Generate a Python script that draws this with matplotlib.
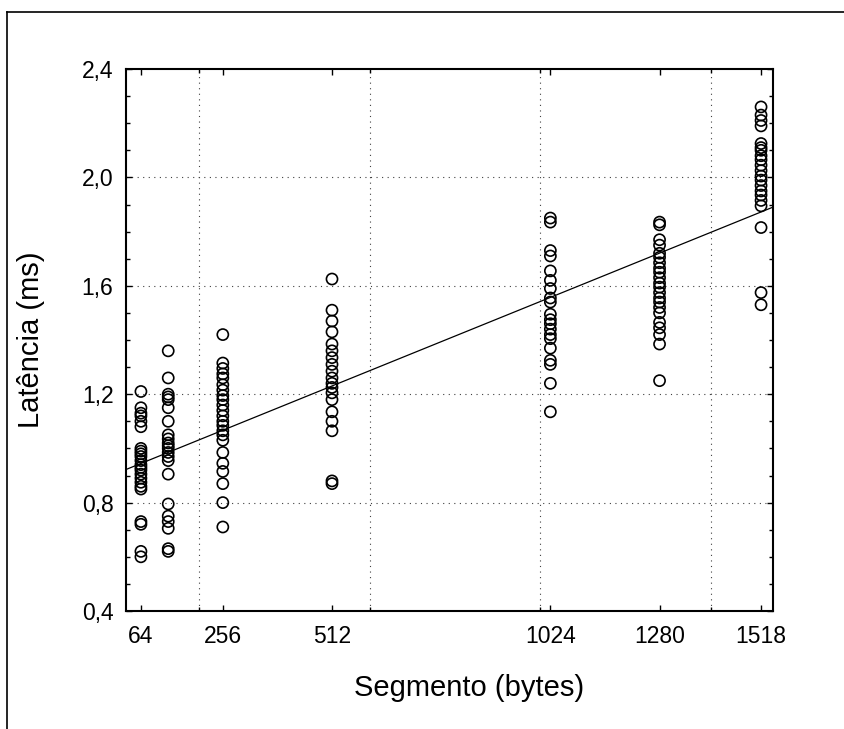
import numpy as np
import matplotlib.pyplot as plt
from matplotlib.lines import Line2D

plt.rcParams['font.family'] = ['Liberation Sans', 'DejaVu Sans']

# --- dados (latencia em ms por tamanho de segmento) ---
seg_64 = [1.21, 1.15, 1.13, 1.12, 1.10, 1.08, 1.00, 0.99, 0.98, 0.97, 0.955,
          0.94, 0.93, 0.92, 0.905, 0.89, 0.875, 0.86, 0.85, 0.73, 0.72, 0.62, 0.60]
seg_128 = [1.36, 1.26, 1.20, 1.19, 1.18, 1.15, 1.10, 1.05, 1.035, 1.02, 1.01,
           1.00, 0.985, 0.97, 0.955, 0.905, 0.795, 0.75, 0.73, 0.705, 0.63, 0.62]
seg_256 = [1.42, 1.315, 1.295, 1.275, 1.26, 1.235, 1.215, 1.195, 1.18, 1.16,
           1.14, 1.12, 1.10, 1.085, 1.065, 1.05, 1.03, 0.985, 0.945, 0.915,
           0.87, 0.80, 0.71]
seg_512 = [1.625, 1.51, 1.47, 1.43, 1.385, 1.36, 1.335, 1.31, 1.285, 1.26,
           1.24, 1.225, 1.205, 1.18, 1.135, 1.10, 1.065, 0.88, 0.87]
seg_1024 = [1.85, 1.835, 1.73, 1.71, 1.655, 1.62, 1.59, 1.555, 1.54, 1.495,
            1.475, 1.46, 1.44, 1.42, 1.405, 1.37, 1.325, 1.31, 1.24, 1.135]
seg_1280 = [1.835, 1.825, 1.77, 1.75, 1.72, 1.705, 1.685, 1.665, 1.65, 1.63,
            1.61, 1.595, 1.575, 1.555, 1.54, 1.52, 1.50, 1.465, 1.445, 1.42,
            1.385, 1.25]
seg_1518 = [2.26, 2.23, 2.21, 2.19, 2.125, 2.11, 2.10, 2.08, 2.065, 2.045,
            2.025, 2.005, 1.99, 1.97, 1.95, 1.935, 1.915, 1.895, 1.815,
            1.575, 1.53]

segmentos = [64, 128, 256, 512, 1024, 1280, 1518]
latencias = [seg_64, seg_128, seg_256, seg_512, seg_1024, seg_1280, seg_1518]

rotulos_x = [64, 256, 512, 1024, 1280, 1518]
grade_x = [200, 600, 1000, 1400]
rotulos_y = [0.4, 0.8, 1.2, 1.6, 2.0, 2.4]

x_todos = np.concatenate([[s] * len(v) for s, v in zip(segmentos, latencias)])
y_todos = np.concatenate(latencias)
coef = np.polyfit(x_todos, y_todos, 1)

fig = plt.figure(figsize=(8.45, 7.29), dpi=100)
ax = fig.add_axes([126 / 845, 1 - 611 / 729, 647 / 845, 542 / 729])

ax.scatter(x_todos, y_todos, s=64, facecolors='none', edgecolors='black',
           linewidths=1.2, zorder=3)

xlim = (29, 1546)
xr = np.array(xlim)
ax.plot(xr, np.polyval(coef, xr), color='black', linewidth=0.9, zorder=4)

ax.set_xlim(*xlim)
ax.set_ylim(0.4, 2.4)

ax.set_xticks(rotulos_x)
ax.set_xticklabels([str(v) for v in rotulos_x])
ax.set_xticks(grade_x, minor=True)
ax.set_yticks(rotulos_y)
ax.set_yticklabels([f"{v:.1f}".replace('.', ',') for v in rotulos_y])
ax.set_yticks(np.arange(0.4, 2.41, 0.1), minor=True)

ax.tick_params(axis='both', which='both', direction='in', top=True, right=True,
               color='black', width=1.0)
ax.tick_params(axis='both', which='major', length=4, labelsize=16.5)
ax.tick_params(axis='both', which='minor', length=3)
ax.tick_params(axis='x', which='major', pad=10)
ax.tick_params(axis='y', which='major', pad=9)

estilo_grade = dict(color='0.25', linestyle=(0, (1, 4)), linewidth=0.8)
ax.grid(False)
for v in grade_x:
    ax.axvline(v, zorder=1, **estilo_grade)
for v in rotulos_y[1:-1]:
    ax.axhline(v, zorder=1, **estilo_grade)

for lado in ax.spines.values():
    lado.set_linewidth(1.5)
    lado.set_color('black')

ax.set_xlabel("Segmento (bytes)", fontsize=21)
ax.xaxis.set_label_coords(0.531, -0.117)
ax.set_ylabel("Latência (ms)", fontsize=21)
ax.yaxis.set_label_coords(-0.125, 0.5)

# moldura externa (cortada na direita e embaixo)
fig.add_artist(Line2D([7 / 845, 7 / 845], [0, 1 - 12 / 729], color='black',
                      linewidth=1.2, transform=fig.transFigure))
fig.add_artist(Line2D([7 / 845, 1], [1 - 12 / 729, 1 - 12 / 729], color='black',
                      linewidth=1.2, transform=fig.transFigure))

fig.savefig("out.png", dpi=100)
